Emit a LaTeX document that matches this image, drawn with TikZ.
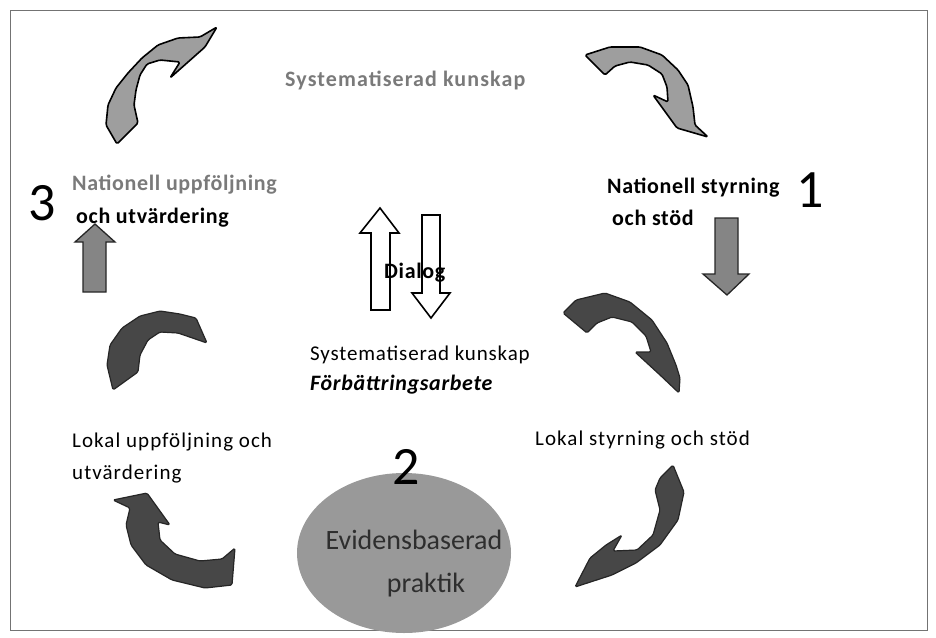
\documentclass[tikz,border=0pt]{standalone}
\usepackage{fontspec}
\setmainfont{Carlito}
\usetikzlibrary{shapes.geometric}
\begin{document}
\begin{tikzpicture}[x=1pt,y=-1pt,
  lightarrow/.style={fill=black!38, draw=black, line width=1.6pt, line join=round},
  darkarrow/.style={fill=black!72, draw=black!85, line width=1.2pt, line join=round},
  blockarrow/.style={fill=black!48, draw=black!85, line width=1.3pt, line join=miter},
  openarrow/.style={fill=white, draw=black, line width=1.6pt, line join=miter},
  lbl/.style={anchor=west, inner sep=0pt, font=\fontsize{21}{24}\selectfont\addfontfeatures{LetterSpace=5}},
  blbl/.style={anchor=west, inner sep=0pt, font=\fontsize{22}{24}\selectfont\bfseries\addfontfeatures{LetterSpace=3}},
  toplbl/.style={anchor=west, inner sep=0pt, text=black!52, font=\fontsize{22}{24}\selectfont\bfseries\addfontfeatures{LetterSpace=5}},
  midlbl/.style={anchor=west, inner sep=0pt, font=\fontsize{21}{24}\selectfont\addfontfeatures{LetterSpace=4}},
  itlbl/.style={anchor=west, inner sep=0pt, font=\fontsize{22}{24}\selectfont\bfseries\itshape\addfontfeatures{LetterSpace=3}},
  numlbl/.style={inner sep=0pt, font=\fontsize{54}{58}\selectfont}]
\useasboundingbox (0,0) rectangle (936,637);
\draw[black!55, line width=1pt] (10,10) rectangle (927,630);

% ---- curved arrows (top, light)
\path[lightarrow, rounded corners=1.5pt] (117,144) -- (106,125) -- (108,105) -- (116,88) -- (128,73) -- (142,58) -- (158,45) -- (178,38) -- (200,37) -- (217,27) -- (205,47) -- (170,78) -- (180,62) -- (160,60) -- (147,64) -- (140,75) -- (136,90) -- (134,105) -- (138,123) -- cycle;
\path[lightarrow, rounded corners=1.5pt] (585,55) -- (610,47) -- (640,47) -- (662,55) -- (678,70) -- (688,85) -- (693,107) -- (695,125) -- (708,137) -- (677,128) -- (653,95) -- (668,102) -- (667,87) -- (662,74) -- (648,65) -- (630,62) -- (615,66) -- (605,75) -- cycle;

% ---- curved arrows (lower, dark)
\path[darkarrow, rounded corners=1.5pt] (563,313) -- (576,300) -- (605,293) -- (630,302) -- (652,320) -- (667,343) -- (676,365) -- (680,378) -- (679,393) -- (660,375) -- (635,352) -- (651,352) -- (646,336) -- (632,322) -- (612,317) -- (597,323) -- (587,333) -- cycle;
\path[darkarrow, rounded corners=1.5pt] (113,390) -- (107,365) -- (110,345) -- (122,328) -- (140,316) -- (160,311) -- (180,314) -- (196,318) -- (207,343) -- (178,333) -- (160,332) -- (148,340) -- (140,355) -- (138,372) -- cycle;
\path[darkarrow, rounded corners=1.5pt] (147,493) -- (170,525) -- (158,522) -- (160,540) -- (175,554) -- (200,561) -- (222,559) -- (235,548) -- (232,585) -- (205,588) -- (172,580) -- (146,565) -- (131,545) -- (126,525) -- (130,508) -- (113,500) -- cycle;
\path[darkarrow, rounded corners=1.5pt] (660,478) -- (673,465) -- (684,492) -- (678,520) -- (660,545) -- (636,563) -- (612,575) -- (575,587) -- (590,558) -- (606,545) -- (622,535) -- (613,551) -- (637,550) -- (653,535) -- (660,510) -- (655,490) -- cycle;

% ---- block arrows
\path[blockarrow] (715,218) -- (738,218) -- (738,274) -- (749,274) -- (727,295) -- (703,274) -- (715,274) -- cycle;
\path[blockarrow] (83,292) -- (106,292) -- (106,242) -- (115,242) -- (95,224) -- (75,242) -- (83,242) -- cycle;

% ---- dialog arrows
\path[openarrow] (371,310) -- (390,310) -- (390,233) -- (399,233) -- (380,208) -- (360,233) -- (371,233) -- cycle;
\path[openarrow] (422,215) -- (440,215) -- (440,293) -- (450,293) -- (431,318) -- (412,293) -- (422,293) -- cycle;

% ---- ellipse
\node[ellipse, fill=black!40, minimum width=214pt, minimum height=160pt, inner sep=0pt] (ev) at (404,553) {};
\node[inner sep=0pt, text=black!82, font=\fontsize{28}{30}\selectfont] (evtxt1) at (414,540) {Evidensbaserad};
\node[inner sep=0pt, text=black!82, font=\fontsize{28}{30}\selectfont] (evtxt2) at (426,585) {praktik};

% ---- texts
\node[toplbl] (topk) at (285,80) {Systematiserad kunskap};
\node[blbl, text=black!52] (nu1) at (72,185) {Nationell uppföljning};
\node[blbl] (nu2) at (76,218) {och utvärdering};
\node[blbl] (ns1) at (607,188) {Nationell styrning};
\node[blbl] (ns2) at (612,218) {och stöd};
\node[blbl] (dialog) at (384,273) {Dialog};
\node[midlbl] (sk) at (310,355) {Systematiserad kunskap};
\node[itlbl] (fb) at (310,385) {Förbättringsarbete};
\node[lbl] (lu1) at (72,442) {Lokal uppföljning och};
\node[lbl] (lu2) at (72,474) {utvärdering};
\node[lbl] (ls) at (535,440) {Lokal styrning och stöd};
\node[numlbl] (n1) at (810,190) {1};
\node[numlbl] (n2) at (406,467) {2};
\node[numlbl] (n3) at (42,203) {3};
\end{tikzpicture}
\end{document}
